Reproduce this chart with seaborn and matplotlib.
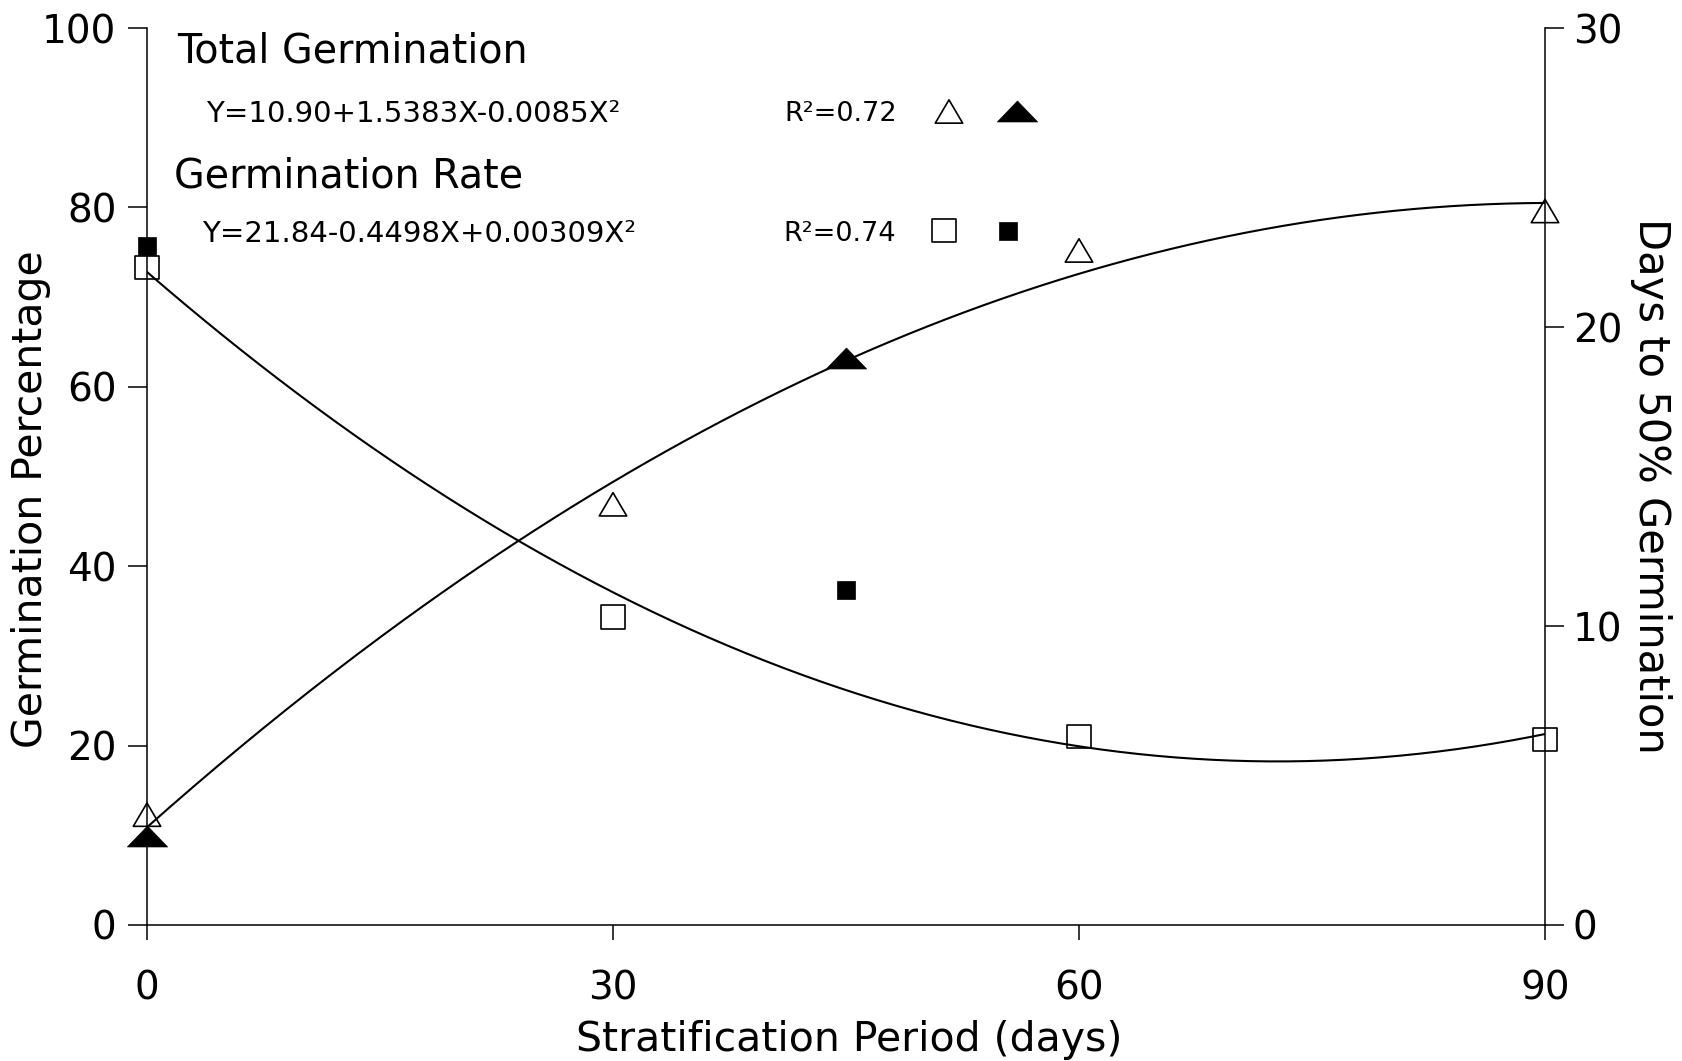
import numpy as np
import matplotlib
matplotlib.use("Agg")
import matplotlib.pyplot as plt
from matplotlib.path import Path
import seaborn as sns

# ---------------- data ----------------
days_open = [0, 30, 60, 90]
total_open = [12.3, 46.9, 75.2, 79.6]          # open triangles, left axis (%)
days_filled = [0, 45]
total_filled = [9.9, 63.2]                     # filled triangles, left axis (%)
rate_open = [22.0, 10.3, 6.3, 6.2]             # open squares, right axis (days)
rate_filled = [22.7, 11.2]                     # filled squares, right axis (days)

# regression coefficients printed on the chart (c0, c1, c2)
total_coef = [10.90, 1.5383, -0.0085]
rate_coef = [21.84, -0.4498, 0.00309]

x_ticks = [0, 30, 60, 90]
left_ticks = [0, 20, 40, 60, 80, 100]
right_ticks = [0, 10, 20, 30]

title_total = "Total Germination"
eq_total = "Y=10.90+1.5383X-0.0085X\u00b2"
r2_total = "R\u00b2=0.72"
title_rate = "Germination Rate"
eq_rate = "Y=21.84-0.4498X+0.00309X\u00b2"
r2_rate = "R\u00b2=0.74"
xlabel = "Stratification Period (days)"
ylabel_left = "Germination Percentage"
ylabel_right = "Days to 50% Germination"

# ---------------- style ----------------
sns.set_theme(style="ticks", rc={
    "text.color": "black", "axes.labelcolor": "black",
    "xtick.color": "black", "ytick.color": "black",
    "axes.edgecolor": "black",
})
plt.rcParams["font.family"] = ["DejaVu Sans"]

W, H = 1682, 1061
fig = plt.figure(figsize=(W / 100, H / 100), dpi=100)
ax = fig.add_axes([147 / W, 1 - 925 / H, 1398 / W, 897 / H])
ax2 = ax.twinx()

codes = [Path.MOVETO, Path.LINETO, Path.LINETO, Path.CLOSEPOLY]
tri_open = Path([(-1, -0.85), (1, -0.85), (0, 0.85), (-1, -0.85)], codes)
tri_fill = Path([(-1, -0.52), (1, -0.52), (0, 0.52), (-1, -0.52)], codes)

# fitted curves from the printed regression equations
x_fit = np.linspace(0, 90, 300)
total_fit = total_coef[0] + total_coef[1] * x_fit + total_coef[2] * x_fit ** 2
rate_fit = rate_coef[0] + rate_coef[1] * x_fit + rate_coef[2] * x_fit ** 2

sns.lineplot(x=x_fit, y=total_fit, ax=ax, color="black", linewidth=1.5,
             estimator=None, sort=False)
sns.lineplot(x=x_fit, y=rate_fit, ax=ax2, color="black", linewidth=1.5,
             estimator=None, sort=False)

sns.scatterplot(x=days_open, y=total_open, ax=ax, marker=tri_open, s=390,
                facecolors="none", edgecolor="black", linewidth=1.2,
                clip_on=False, zorder=5)
h_tri_open = ax.collections[-1]
sns.scatterplot(x=days_filled, y=total_filled, ax=ax, marker=tri_fill, s=840,
                color="black", edgecolor="black", linewidth=0.5,
                clip_on=False, zorder=5)
h_tri_fill = ax.collections[-1]

sns.scatterplot(x=days_open, y=rate_open, ax=ax2, marker="s", s=280,
                facecolors="none", edgecolor="black", linewidth=1.2,
                clip_on=False, zorder=5)
h_sq_open = ax2.collections[-1]
sns.scatterplot(x=days_filled, y=rate_filled, ax=ax2, marker="s", s=180,
                color="black", edgecolor="black", linewidth=0.5,
                clip_on=False, zorder=5)
h_sq_fill = ax2.collections[-1]

# ---------------- axes ----------------
ax.set_xlim(0, 90)
ax.set_ylim(0, 100)
ax2.set_ylim(0, 30)
ax.set_xticks(x_ticks)
ax.set_xticklabels([str(v) for v in x_ticks])
ax.set_yticks(left_ticks)
ax.set_yticklabels([str(v) for v in left_ticks])
ax2.set_yticks(right_ticks)
ax2.set_yticklabels([str(v) for v in right_ticks])

ax.tick_params(axis="x", direction="out", length=11, width=1.1, pad=21,
               labelsize=28)
ax.tick_params(axis="y", direction="out", length=14, width=1.1, pad=8,
               labelsize=28)
ax2.tick_params(axis="y", direction="out", length=14, width=1.1, pad=6,
                labelsize=28)

for s in ["top", "right"]:
    ax.spines[s].set_visible(False)
for s in ["top", "left", "bottom"]:
    ax2.spines[s].set_visible(False)
for s in ["left", "bottom"]:
    ax.spines[s].set_linewidth(1.1)
ax2.spines["right"].set_linewidth(1.1)
ax.grid(False)
ax2.grid(False)

ax.set_xlabel(xlabel, fontsize=29.5)
ax.xaxis.set_label_coords(0.502, -0.106)
ax.set_ylabel(ylabel_left, fontsize=29.5)
ax.yaxis.set_label_coords(-0.069, 0.475)
ax2.set_ylabel(ylabel_right, fontsize=30, rotation=270, va="bottom")
ax2.yaxis.set_label_coords(1.061, 0.49)

# ---------------- annotations ----------------
ax.text(0.0215, 0.974, title_total, transform=ax.transAxes, fontsize=28.5,
        ha="left", va="center")
ax.text(0.042, 0.904, eq_total, transform=ax.transAxes, fontsize=21,
        ha="left", va="center")
ax.text(0.456, 0.904, r2_total, transform=ax.transAxes, fontsize=19.5,
        ha="left", va="center")
ax.text(0.019, 0.834, title_rate, transform=ax.transAxes, fontsize=28.5,
        ha="left", va="center")
ax.text(0.039, 0.770, eq_rate, transform=ax.transAxes, fontsize=21,
        ha="left", va="center")
ax.text(0.455, 0.770, r2_rate, transform=ax.transAxes, fontsize=19.5,
        ha="left", va="center")

leg_kw = dict(ncol=2, loc="center", frameon=False, fontsize=20,
              handlelength=1.0, handletextpad=0.0, borderpad=0.0,
              borderaxespad=0.0, scatteryoffsets=[0.5])
leg1 = ax2.legend(handles=[h_tri_open, h_tri_fill], labels=["", ""],
                  bbox_to_anchor=(0.598, 0.905), columnspacing=1.45, **leg_kw)
ax2.add_artist(leg1)
leg2 = ax2.legend(handles=[h_sq_open, h_sq_fill], labels=["", ""],
                  bbox_to_anchor=(0.593, 0.772), columnspacing=1.30, **leg_kw)

fig.savefig("out.png", dpi=100)
